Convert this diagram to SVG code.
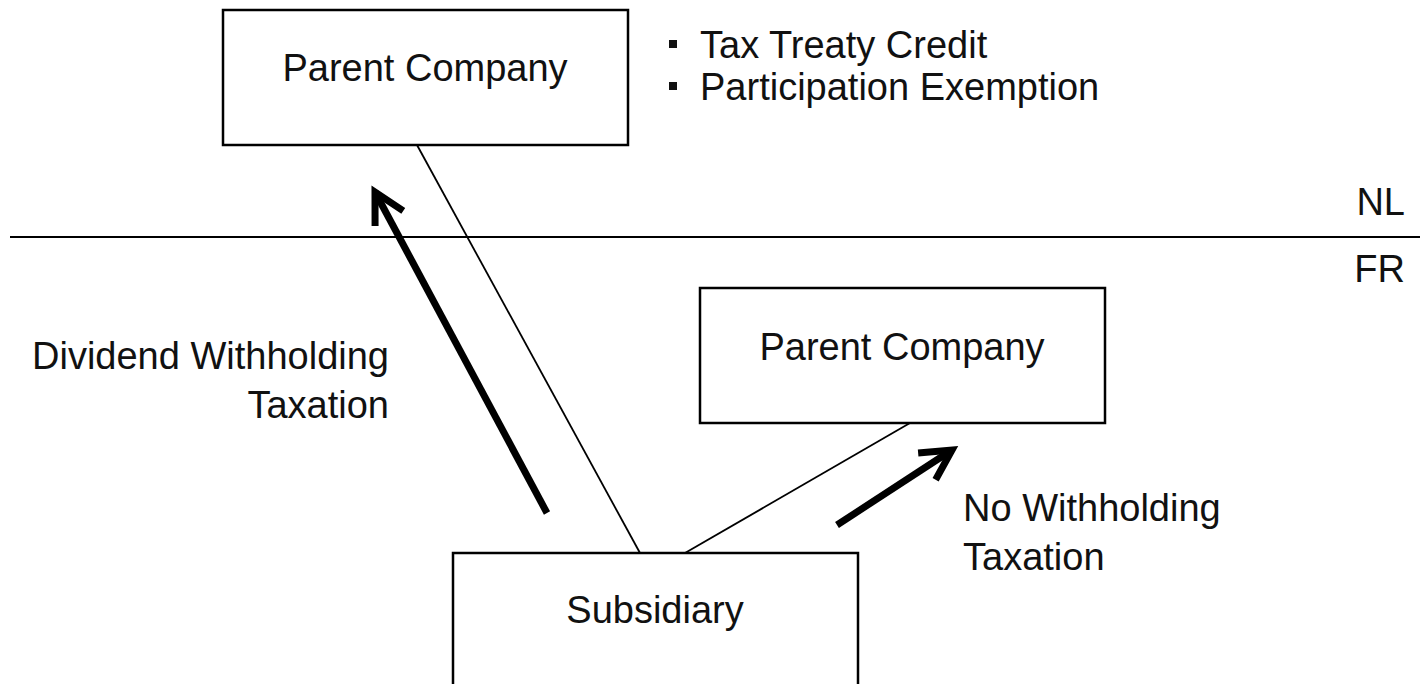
<svg xmlns="http://www.w3.org/2000/svg" width="1420" height="684" viewBox="0 0 1420 684">
<defs>
<style>
.box{fill:#fff;stroke:#000;stroke-width:2.5}
.t{font-family:"Liberation Sans",Arial,sans-serif;font-size:38px;fill:#111}
.c{text-anchor:middle}
.r{text-anchor:end}
.thin{stroke:#000;stroke-width:1.8;fill:none}
.thick{stroke:#000;stroke-width:7;fill:none}
</style>
<marker id="chev" markerUnits="userSpaceOnUse" markerWidth="80" markerHeight="80" viewBox="-40 -40 80 80" refX="0" refY="0" orient="auto" overflow="visible">
<path d="M-30,-16 L0,0 L-30,16" fill="none" stroke="#000" stroke-width="7" stroke-linejoin="miter"/>
</marker>
</defs>
<rect width="1420" height="684" fill="#fff"/>
<g id="border-line">
<line x1="10" y1="237" x2="1420" y2="237" stroke="#000" stroke-width="2"/>
<text class="t r" x="1405" y="215">NL</text>
<text class="t r" x="1405" y="282">FR</text>
</g>
<g id="connectors">
<line class="thin" x1="417" y1="145" x2="640" y2="553"/>
<line class="thin" x1="685" y1="553" x2="910" y2="423"/>
<line class="thick" x1="547" y1="513" x2="375" y2="192" marker-end="url(#chev)"/>
<line class="thick" x1="837" y1="525" x2="952" y2="450" marker-end="url(#chev)"/>
</g>
<g id="parent-nl">
<rect class="box" x="223" y="10" width="405" height="135"/>
<text class="t c" x="425" y="81">Parent Company</text>
</g>
<g id="parent-fr">
<rect class="box" x="700" y="288" width="405" height="135"/>
<text class="t c" x="902" y="360">Parent Company</text>
</g>
<g id="subsidiary">
<rect class="box" x="453" y="553" width="405" height="150"/>
<text class="t c" x="655" y="623">Subsidiary</text>
</g>
<g id="benefits">
<rect x="669" y="40" width="8" height="8" fill="#111"/>
<text class="t" x="700" y="58">Tax Treaty Credit</text>
<rect x="669" y="82" width="8" height="8" fill="#111"/>
<text class="t" x="700" y="100">Participation Exemption</text>
</g>
<g id="label-dividend">
<text class="t r" x="389" y="369">Dividend Withholding</text>
<text class="t r" x="389" y="418">Taxation</text>
</g>
<g id="label-nowht">
<text class="t" x="963" y="521">No Withholding</text>
<text class="t" x="963" y="570">Taxation</text>
</g>
</svg>
